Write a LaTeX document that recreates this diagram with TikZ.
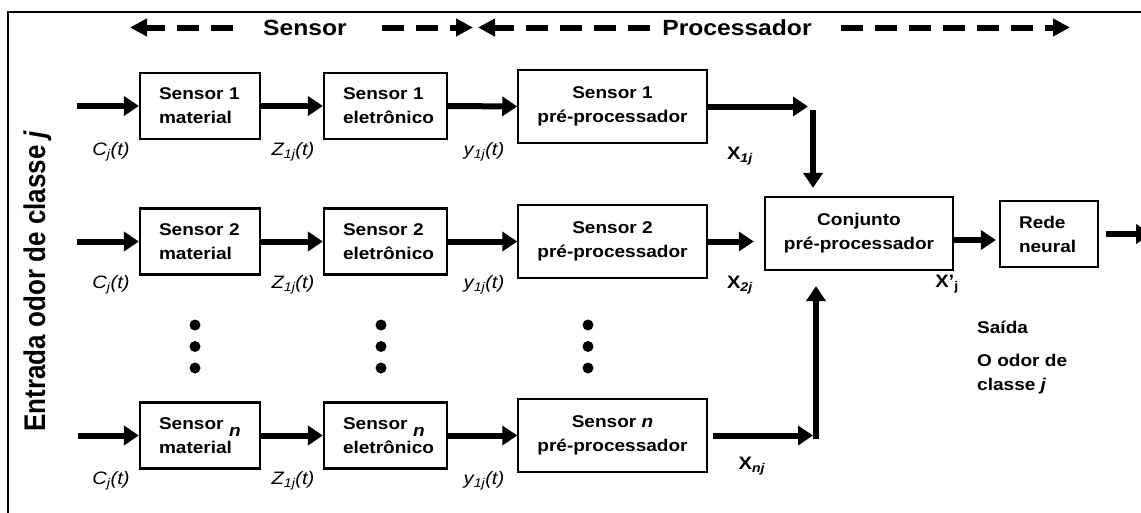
\documentclass[tikz,border=0pt]{standalone}
\usepackage{fontspec}
\setmainfont{Liberation Sans}[FakeStretch=1.12]
\newfontfamily\sidefont{Liberation Sans}
\usetikzlibrary{arrows.meta}

\tikzset{
  blk/.style={draw, line width=2.2pt, inner xsep=19pt, inner ysep=0pt,
              font=\fontsize{17}{24}\selectfont\bfseries},
  lblk/.style={blk, align=left},
  cblk/.style={blk, align=center},
  conn/.style={line width=6pt, -{Triangle[length=15pt,width=19pt]}},
  hdr/.style={line width=6pt, dash pattern=on 22pt off 12pt,
              -{Triangle[length=17pt,width=17pt]}},
  sig/.style={font=\fontsize{18}{18}\selectfont\itshape, inner sep=0pt},
  xlab/.style={font=\fontsize{18}{18}\selectfont\bfseries, inner sep=0pt},
  note/.style={font=\fontsize{17}{24}\selectfont\bfseries, inner sep=0pt, align=left},
  title/.style={font=\fontsize{22}{22}\selectfont\bfseries, inner sep=0pt},
  dot/.style={circle, fill, inner sep=0pt, minimum size=11pt},
  matbox/.style={lblk, minimum width=120pt, text width=82pt, minimum height=66pt},
  elbox/.style={lblk, minimum width=123pt, text width=85pt, minimum height=66pt},
  prebox/.style={cblk, minimum width=176pt, minimum height=73pt},
}

\begin{document}
\begin{tikzpicture}[x=1pt,y=-1pt]
\useasboundingbox (0,0) rectangle (1141,512);
\fill[white] (0,0) rectangle (1141,512);

% outer frame (open to the right and bottom)
\draw[line width=2pt] (8,516) -- (8,12) -- (1146,12);

% header: Sensor / Processador spans
\node[title] (sensor) at (305,27.5) {Sensor};
\node[title] (proc) at (737,27.5) {Processador};
\coordinate (sa) at (233,27.5);  \coordinate (sb) at (130,27.5);
\coordinate (sc) at (382,27.5);  \coordinate (sd) at (473,27.5);
\coordinate (pa) at (650,27.5);  \coordinate (pb) at (478,27.5);
\coordinate (pc) at (841,27.5);  \coordinate (pd) at (1070,27.5);
\draw[hdr] (sa) -- (sb);
\draw[hdr] (sc) -- (sd);
\draw[hdr] (pa) -- (pb);
\draw[hdr] (pc) -- (pd);

% side label
\node[rotate=90, inner sep=0pt, anchor=base] (side) at (45,281)
  {\scalebox{1}[1.15]{\sidefont\fontsize{26}{26}\selectfont\bfseries Entrada odor de classe \textit{j}}};

% row 1
\node[matbox] (m1) at (200,106) {Sensor 1\\material};
\node[elbox] (e1) at (385.5,106) {Sensor 1\\eletrônico};
\node[prebox] (p1) at (612.5,106.5) {Sensor 1\\pré-processador};

% row 2
\node[matbox] (m2) at (200,241.5) {Sensor 2\\material};
\node[elbox] (e2) at (385.5,241.5) {Sensor 2\\eletrônico};
\node[prebox] (p2) at (612.5,241.5) {Sensor 2\\pré-processador};

% row n
\node[matbox] (mn) at (200,435.5)
  {Sensor~\raisebox{-7pt}[0pt][0pt]{\textit{n}}\\material};
\node[elbox] (en) at (385.5,435.5)
  {Sensor~\raisebox{-7pt}[0pt][0pt]{\textit{n}}\\eletrônico};
\node[prebox] (pn) at (612.5,435.5) {Sensor \textit{n}\\pré-processador};

% fusion stage and classifier
\node[cblk, minimum width=174pt, minimum height=73pt] (conj) at (859,233.5) {Conjunto\\pré-processador};
\node[lblk, minimum width=98pt, text width=60pt, minimum height=66pt] (rede) at (1049,234) {Rede\\neural};

% inputs
\coordinate (in1) at (77,106);
\coordinate (in2) at (77,241.5);
\coordinate (inn) at (78,435.5);
\draw[conn] (in1) -- (m1.west);
\draw[conn] (in2) -- (m2.west);
\draw[conn] (inn) -- (mn.west);

% chains
\draw[conn] (m1.east) -- (e1.west);
\draw[conn] (e1.east) -- (p1.west);
\draw[conn] (m2.east) -- (e2.west);
\draw[conn] (e2.east) -- (p2.west);
\draw[conn] (mn.east) -- (en.west);
\draw[conn] (en.east) -- (pn.west);

% into the fusion stage
\coordinate (j1) at (808,106.5);
\coordinate (v1) at (813,110);
\draw[conn] (p1.east) -- (j1);
\draw[conn, shorten >=8pt] (v1) -- (v1 |- conj.north);
\draw[conn, shorten >=10pt] (p2.east) -- (p2.east -| conj.west);
\coordinate (vn) at (816,438.5);
\draw[conn, shorten >=3pt] ([xshift=5pt]pn.east) -- (vn |- pn.east);
\draw[conn, shorten >=15pt] (vn) -- (vn |- conj.south);

% fusion -> network -> output
\draw[conn, shorten >=3pt] ([yshift=-6.5pt]conj.east) -- ([yshift=-6.5pt]conj.east -| rede.west);
\coordinate (out) at (1151,234);
\draw[conn] ([xshift=7pt]rede.east) -- (out);

% signal labels
\foreach \r/\y in {1/152, 2/285, n/481} {
  \node[sig] (c\r) at (111,\y) {C\textsubscript{j}(t)};
  \node[sig] (z\r) at (293,\y) {Z\textsubscript{1j}(t)};
  \node[sig] (y\r) at (484,\y) {y\textsubscript{1j}(t)};
}
\node[xlab] (x1) at (740,156) {X\textsubscript{\textit{1j}}};
\node[xlab] (x2) at (740,285) {X\textsubscript{\textit{2j}}};
\node[xlab] (xn) at (752,466) {X\textsubscript{\textit{nj}}};
\node[xlab] (xp) at (947,284) {X’\textsubscript{j}};

% ellipsis dots
\foreach \c/\x in {a/195, b/381, c/588} {
  \node[dot] (\c1) at (\x,325) {};
  \node[dot] (\c2) at (\x,346.5) {};
  \node[dot] (\c3) at (\x,368) {};
}

% output description
\node[note, anchor=west] (said) at (977,327) {Saída};
\node[note, anchor=west] (odor) at (977,374.5) {O odor de\\classe \textit{j}};
\end{tikzpicture}
\end{document}
